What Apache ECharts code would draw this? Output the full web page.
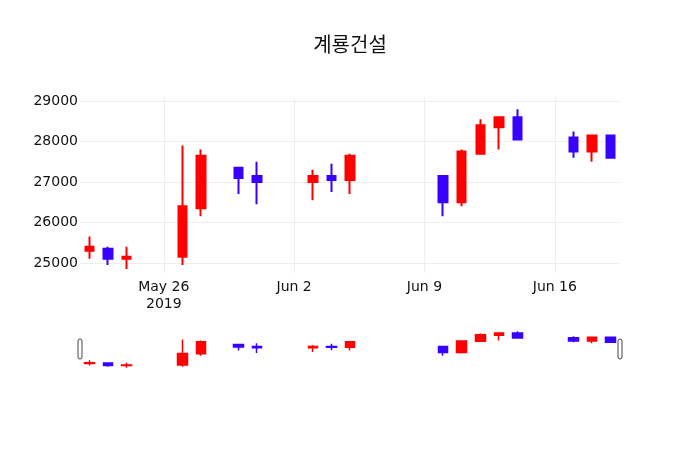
<!DOCTYPE html>
<html>
<head>
<meta charset="utf-8">
<script src="https://cdn.jsdelivr.net/npm/echarts@6/dist/echarts.min.js"></script>
<style>
  html, body { margin: 0; background: #fff; }
  #chart { width: 700px; height: 450px; }
</style>
</head>
<body>
<div id="chart"></div>
<script>
// daily prices (KRW)
const dates = ['2019-05-22', '2019-05-23', '2019-05-24', '2019-05-27', '2019-05-28', '2019-05-30',
  '2019-05-31', '2019-06-03', '2019-06-04', '2019-06-05', '2019-06-10', '2019-06-11',
  '2019-06-12', '2019-06-13', '2019-06-14', '2019-06-17', '2019-06-18', '2019-06-19']
const opens = [25300, 25350, 25100, 25150, 26350, 27350, 27150, 27000, 27150, 27050, 27150, 26500,
  27700, 28350, 28600, 28100, 27750, 28150]
const closes = [25400, 25100, 25150, 26400, 27650, 27100, 27000, 27150, 27050, 27650, 26500, 27750,
  28400, 28600, 28050, 27750, 28150, 27600]
const lows = [25100, 24950, 24850, 24950, 26150, 26700, 26450, 26550, 26750, 26700, 26150, 26400,
  27700, 27800, 28050, 27600, 27500, 27600]
const highs = [25650, 25400, 25400, 27900, 27800, 27350, 27500, 27300, 27450, 27700, 27150, 27800,
  28550, 28600, 28800, 28250, 28150, 28150]

const yTicks = [25000, 26000, 27000, 28000, 29000]
const xTickDays = ['2019-05-26', '2019-06-02', '2019-06-09', '2019-06-16']

const UP = '#ff0000'
const DOWN = '#3700ff'
const GRID = '#eeeeee'
const TXT = '#111'

const DAY = 86400000
const HALF = DAY / 2
const toMs = s => Date.parse(s + 'T00:00:00Z')
const xMin = toMs('2019-05-22') - HALF
const xMax = toMs('2019-06-19') + HALF

let rows = dates.map((d, i) => [toMs(d), opens[i], closes[i], lows[i], highs[i]])
let tickMs = xTickDays.map(toMs)

// splitLine colours cycle per tick; only weekly ticks get a line
let xColors = new Array(14).fill('rgba(0,0,0,0)')
xColors[((tickMs[0] - xMin) / HALF) % 14] = GRID
let yColors = ['rgba(0,0,0,0)', GRID, 'rgba(0,0,0,0)', 'rgba(0,0,0,0)']

function xLabel(v) {
  let k = tickMs.indexOf(Math.round(v))
  if (k < 0) return ''
  let d = new Date(tickMs[k])
  let s = d.toLocaleString('en-US', { month: 'short', timeZone: 'UTC' }) + ' ' + d.getUTCDate()
  return k === 0 ? s + '\n' + d.getUTCFullYear() : s
}

let chart = echarts.init(document.getElementById('chart'))
let option = {
  animation: false,
  backgroundColor: '#fff',
  title: {
    text: '계룡건설',
    left: 'center',
    top: 29,
    textStyle: { fontFamily: 'Noto Sans CJK KR', fontSize: 20, fontWeight: 'normal', color: TXT }
  },
  grid: [
    { left: 80, right: 80, top: 98, height: 175 },
    { left: 80, right: 80, top: 328, height: 43 }
  ],
  xAxis: [
    {
      type: 'value', gridIndex: 0, min: xMin, max: xMax, interval: HALF,
      axisLine: { show: false }, axisTick: { show: false },
      axisLabel: {
        formatter: xLabel, margin: 6, color: TXT, fontSize: 14,
        fontFamily: 'DejaVu Sans', lineHeight: 17
      },
      splitLine: { show: true, lineStyle: { color: xColors, width: 1 } }
    },
    {
      type: 'value', gridIndex: 1, min: xMin, max: xMax,
      axisLine: { show: false }, axisTick: { show: false }, axisLabel: { show: false },
      splitLine: { show: false }
    }
  ],
  yAxis: [
    {
      type: 'value', gridIndex: 0, min: 24750, max: 29075, interval: 250,
      axisLine: { show: false }, axisTick: { show: false },
      axisLabel: {
        formatter: v => yTicks.includes(Math.round(v)) ? String(Math.round(v)) : '',
        margin: 2, color: TXT, fontSize: 14, fontFamily: 'DejaVu Sans'
      },
      splitLine: { show: true, lineStyle: { color: yColors, width: 1 } }
    },
    {
      type: 'value', gridIndex: 1, min: 24500, max: 29140,
      axisLine: { show: false }, axisTick: { show: false }, axisLabel: { show: false },
      splitLine: { show: false }
    }
  ],
  series: [
    {
      type: 'candlestick', xAxisIndex: 0, yAxisIndex: 0,
      data: rows, encode: { x: 0, y: [1, 2, 3, 4] },
      barWidth: 9,
      itemStyle: { color: UP, color0: DOWN, borderColor: UP, borderColor0: DOWN, borderWidth: 2 }
    },
    {
      type: 'candlestick', xAxisIndex: 1, yAxisIndex: 1,
      data: rows, encode: { x: 0, y: [1, 2, 3, 4] },
      barWidth: 10,
      itemStyle: { color: UP, color0: DOWN, borderColor: UP, borderColor0: DOWN, borderWidth: 1.5 }
    }
  ]
}
chart.setOption(option)

// range-slider grab handles at both ends of the mini chart
let left = chart.convertToPixel({ xAxisIndex: 1 }, xMin)
let right = chart.convertToPixel({ xAxisIndex: 1 }, xMax)
let handle = x => ({
  type: 'rect',
  shape: { x: x - 2, y: 339, width: 4, height: 20, r: 2 },
  style: { fill: '#fff', stroke: '#444', lineWidth: 1 }
})
chart.setOption({ graphic: [handle(left), handle(right)] })
</script>
</body>
</html>
